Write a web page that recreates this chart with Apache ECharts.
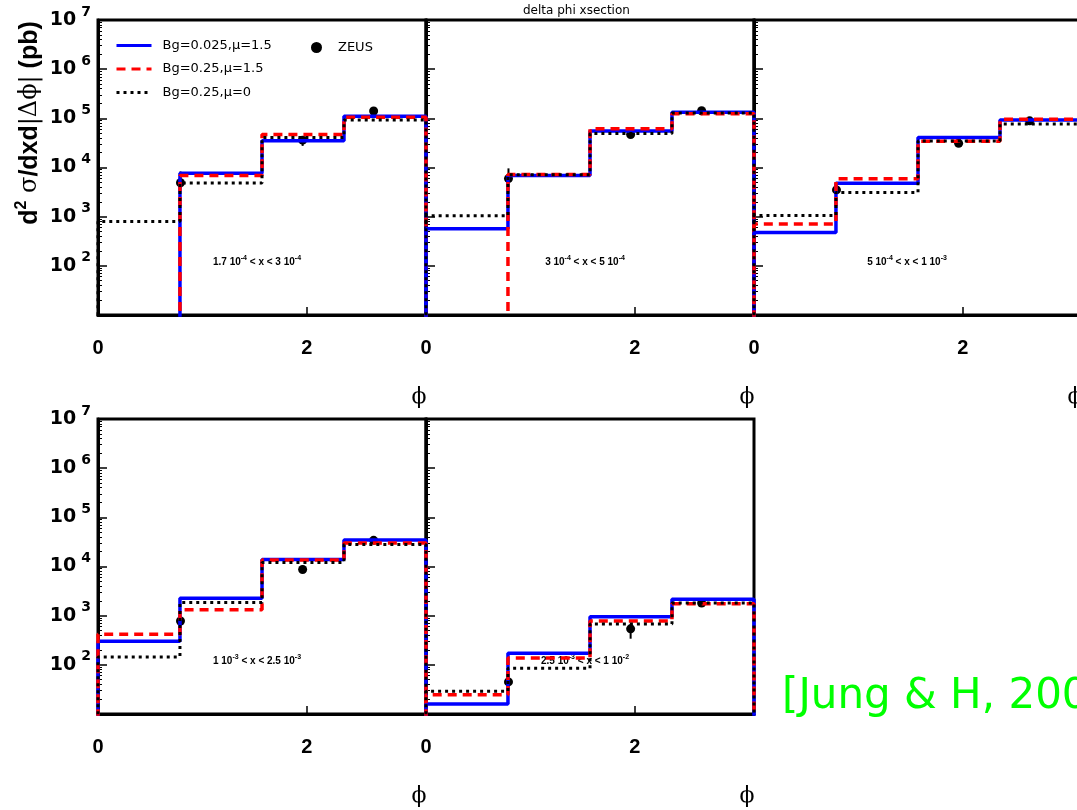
<!DOCTYPE html>
<html>
<head>
<meta charset="utf-8">
<script src="https://cdn.jsdelivr.net/npm/echarts@6/dist/echarts.min.js"></script>
<style>
  html, body { margin: 0; padding: 0; background: #fff; }
  #chart { width: 1077px; height: 810px; }
</style>
</head>
<body>
<div id="chart"></div>
<script>
// bin edges in delta phi (4 bins from 0 to pi)
const phiEdges = [0, 0.785, 1.571, 2.356, 3.1416]
const seriesNames = ['Bg=0.025,\u03bc=1.5', 'Bg=0.25,\u03bc=1.5', 'Bg=0.25,\u03bc=0']

// one row per x bin (panel); 0 = empty bin
const blueVals = [
  [0, 7660, 35200, 110000],
  [570, 6850, 55500, 133000],
  [476, 4800, 40600, 93000],
  [302, 2270, 13800, 34700],
  [16, 173, 950, 2150]
]
const redVals = [
  [0, 6850, 46700, 105000],
  [0, 7180, 61600, 124000],
  [710, 5900, 34000, 95900],
  [417, 1320, 13600, 30000],
  [24.5, 138, 780, 1740]
]
const blackVals = [
  [800, 4860, 40600, 93000],
  [1040, 7080, 49000, 129000],
  [1050, 3100, 34700, 77000],
  [145, 1860, 12000, 28000],
  [29, 85, 675, 1820]
]

// ZEUS data points
const zeusPhi = [0.79, 1.96, 2.64]
const zeusVals = [
  [4900, 36000, 141000],
  [5950, 46800, 143000],
  [3500, 31000, 89000],
  [780, 8700, 34000],
  [45, 540, 1800]
]
const zeusLo = [
  [3800, 27500, 128000],
  [5100, 43500, 134000],
  [3100, 28500, 83000],
  [630, 7600, 31000],
  [32, 340, 1650]
]
const zeusHi = [
  [8300, 40000, 156000],
  [9600, 50500, 153000],
  [3900, 33500, 95000],
  [930, 10500, 37000],
  [57, 680, 1950]
]

const panelLabels = [
  '{m|1.7 10}{s|-4}{m| < x < 3 10}{s|-4}',
  '{m|3 10}{s|-4}{m| < x < 5 10}{s|-4}',
  '{m|5 10}{s|-4}{m| < x < 1 10}{s|-3}',
  '{m|1 10}{s|-3}{m| < x < 2.5 10}{s|-3}',
  '{m|2.5 10}{s|-3}{m| < x < 1 10}{s|-2}'
]
const xTickLabels = ['0', '2']

// panel layout (px)
const gridPos = [[98, 20], [426, 20], [754, 20], [98, 419], [426, 419]]
const gridW = 328
const gridH = 295

function histData (vals) {
  // log axis can't take 0, push empty bins below the axis so they get clipped
  const v = vals.map(x => (x > 0 ? x : 1))
  return [
    [phiEdges[0], 1], [phiEdges[0], v[0]], [phiEdges[1], v[1]],
    [phiEdges[2], v[2]], [phiEdges[3], v[3]], [phiEdges[4], v[3]], [phiEdges[4], 1]
  ]
}

const chart = echarts.init(document.getElementById('chart'))

const grids = []
const xAxes = []
const yAxes = []
const series = []
const graphics = []

gridPos.forEach((p, i) => {
  const firstCol = i === 0 || i === 3
  grids.push({
    left: p[0], top: p[1], width: gridW, height: gridH,
    show: true, borderColor: '#000', borderWidth: 3,
    containLabel: false, outerBoundsMode: 'none'
  })
  xAxes.push({
    gridIndex: i, type: 'value', min: 0, max: 3.1416, interval: 2,
    axisLine: { lineStyle: { color: '#000', width: 3 } },
    axisTick: { inside: true, length: 8, lineStyle: { color: '#000', width: 1.5 } },
    splitLine: { show: false },
    axisLabel: {
      showMaxLabel: false, margin: 23,
      fontFamily: 'Liberation Sans', fontWeight: 'bold', fontSize: 20, color: '#000',
      formatter: v => (xTickLabels.indexOf(String(v)) >= 0 ? String(v) : '')
    },
    name: '\u03d5', nameLocation: 'end', nameGap: -7,
    nameTextStyle: {
      fontFamily: 'DejaVu Serif', fontSize: 22, color: '#000',
      align: 'center', verticalAlign: 'top', padding: [71, 0, 0, 0]
    }
  })
  yAxes.push({
    gridIndex: i, type: 'log', logBase: 10, min: 10, max: 1e7,
    axisLine: { lineStyle: { color: '#000', width: 3 } },
    axisTick: { inside: true, length: 9, lineStyle: { color: '#000', width: 1.5 } },
    minorTick: { show: true, splitNumber: 9, length: 4, lineStyle: { color: '#000', width: 1 } },
    splitLine: { show: false },
    axisLabel: {
      show: firstCol, margin: 7,
      formatter: v => {
        const e = Math.round(Math.log10(v))
        return e < 2 ? '' : '{m|10}{e|' + e + '}'
      },
      rich: {
        m: { fontFamily: 'DejaVu Sans', fontWeight: 'bold', fontSize: 19, color: '#000', lineHeight: 30 },
        e: { fontFamily: 'DejaVu Sans', fontWeight: 'bold', fontSize: 14, color: '#000', lineHeight: 16, verticalAlign: 'top', padding: [0, 0, 0, 5] }
      }
    }
  })

  series.push({
    name: seriesNames[0], type: 'line', step: 'end', xAxisIndex: i, yAxisIndex: i,
    data: histData(blueVals[i]), symbol: 'none', showSymbol: false,
    lineStyle: { color: '#0000ff', width: 3.5 }, itemStyle: { color: '#0000ff' }
  })
  series.push({
    name: seriesNames[1], type: 'line', step: 'end', xAxisIndex: i, yAxisIndex: i,
    data: histData(redVals[i]), symbol: 'none', showSymbol: false,
    lineStyle: { color: '#ff0000', width: 3.5, type: [9, 6] }, itemStyle: { color: '#ff0000' }
  })
  series.push({
    name: seriesNames[2], type: 'line', step: 'end', xAxisIndex: i, yAxisIndex: i,
    data: histData(blackVals[i]), symbol: 'none', showSymbol: false,
    lineStyle: { color: '#000', width: 3, type: [3, 4] }, itemStyle: { color: '#000' }
  })
  // error bars
  series.push({
    type: 'custom', xAxisIndex: i, yAxisIndex: i,
    data: zeusPhi.map((x, k) => [x, zeusLo[i][k], zeusHi[i][k]]),
    renderItem: (params, api) => {
      const a = api.coord([api.value(0), api.value(1)])
      const b = api.coord([api.value(0), api.value(2)])
      return {
        type: 'line',
        shape: { x1: a[0], y1: a[1], x2: b[0], y2: b[1] },
        style: { stroke: '#000', lineWidth: 2 }
      }
    }
  })
  series.push({
    name: 'ZEUS', type: 'scatter', xAxisIndex: i, yAxisIndex: i,
    data: zeusPhi.map((x, k) => [x, zeusVals[i][k]]),
    symbol: 'circle', symbolSize: 9, itemStyle: { color: '#000', opacity: 1 }
  })

  graphics.push({
    type: 'text', x: p[0] + (i === 2 ? 153 : 159), y: p[1] + 242,
    style: {
      text: panelLabels[i], align: 'center', verticalAlign: 'middle',
      rich: {
        m: { fontFamily: 'Liberation Sans', fontWeight: 'bold', fontSize: 10, color: '#000', lineHeight: 14 },
        s: { fontFamily: 'Liberation Sans', fontWeight: 'bold', fontSize: 7, color: '#000', lineHeight: 8, verticalAlign: 'top' }
      }
    }
  })
})

// y axis title
graphics.push({
  type: 'text', x: 30, y: 123, rotation: Math.PI / 2,
  style: {
    text: '{b|d}{s|2}{r| \u03c3}{b|/dxd}{r||\u0394\u03d5|}{b| (pb)}',
    align: 'center', verticalAlign: 'middle',
    rich: {
      b: { fontFamily: 'Liberation Sans', fontWeight: 'bold', fontSize: 25, color: '#000', lineHeight: 32 },
      s: { fontFamily: 'Liberation Sans', fontWeight: 'bold', fontSize: 16, color: '#000', lineHeight: 20, verticalAlign: 'top' },
      r: { fontFamily: 'DejaVu Serif', fontSize: 24, color: '#000', lineHeight: 32 }
    }
  }
})
graphics.push({
  type: 'text', x: 782, y: 697,
  style: {
    text: '[Jung & H, 2003]', fill: '#00ff00',
    fontFamily: 'DejaVu Sans', fontSize: 42, verticalAlign: 'middle'
  }
})

const option = {
  animation: false,
  backgroundColor: '#fff',
  title: {
    text: 'delta phi xsection', left: 518, top: 0,
    textStyle: { fontFamily: 'DejaVu Sans', fontSize: 12, fontWeight: 'normal', color: '#000' }
  },
  legend: [
    {
      data: seriesNames, orient: 'vertical', left: 110, top: 34,
      itemWidth: 35, itemHeight: 14, itemGap: 10.5,
      itemStyle: { opacity: 0 },
      lineStyle: { width: 3 },
      textStyle: { fontFamily: 'DejaVu Sans', fontSize: 13, color: '#000', padding: [0, 0, 0, 6] }
    },
    {
      data: ['ZEUS'], left: 306, top: 36, itemWidth: 11, itemHeight: 11,
      textStyle: { fontFamily: 'DejaVu Sans', fontSize: 13, color: '#000', padding: [0, 0, 0, 11] }
    }
  ],
  grid: grids,
  xAxis: xAxes,
  yAxis: yAxes,
  series: series,
  graphic: graphics
}

chart.setOption(option)
window.addEventListener('resize', () => {
  chart.resize()
})
</script>
</body>
</html>
